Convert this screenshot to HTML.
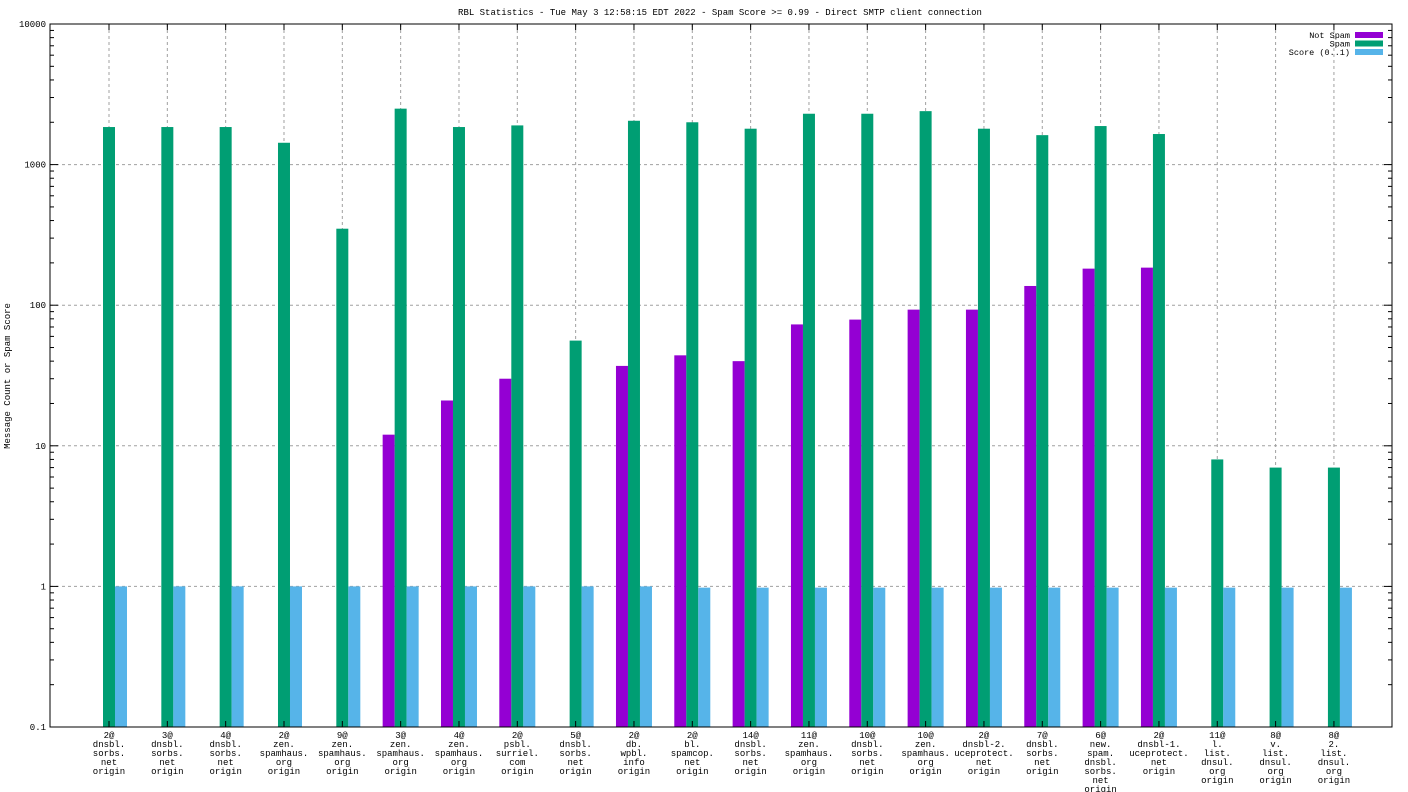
<!DOCTYPE html>
<html><head><meta charset="utf-8"><style>
html,body{margin:0;padding:0;background:#fff}
svg{display:block;font-family:"Liberation Mono",monospace;font-size:9px}
</style></head><body>
<svg id="c" width="1408" height="792" xmlns="http://www.w3.org/2000/svg"></svg>
<script>
const categories=[["2@","dnsbl.","sorbs.","net","origin"],["3@","dnsbl.","sorbs.","net","origin"],["4@","dnsbl.","sorbs.","net","origin"],["2@","zen.","spamhaus.","org","origin"],["9@","zen.","spamhaus.","org","origin"],["3@","zen.","spamhaus.","org","origin"],["4@","zen.","spamhaus.","org","origin"],["2@","psbl.","surriel.","com","origin"],["5@","dnsbl.","sorbs.","net","origin"],["2@","db.","wpbl.","info","origin"],["2@","bl.","spamcop.","net","origin"],["14@","dnsbl.","sorbs.","net","origin"],["11@","zen.","spamhaus.","org","origin"],["10@","dnsbl.","sorbs.","net","origin"],["10@","zen.","spamhaus.","org","origin"],["2@","dnsbl-2.","uceprotect.","net","origin"],["7@","dnsbl.","sorbs.","net","origin"],["6@","new.","spam.","dnsbl.","sorbs.","net","origin"],["2@","dnsbl-1.","uceprotect.","net","origin"],["11@","l.","list.","dnsul.","org","origin"],["8@","v.","list.","dnsul.","org","origin"],["8@","2.","list.","dnsul.","org","origin"]];
const notSpam=[0,0,0,0,0,12,21,30,0,37,44,40,73,79,93,93,137,182,185,0,0,0];
const spam=[1850,1850,1850,1430,350,2500,1850,1900,56,2050,2000,1800,2300,2300,2400,1800,1620,1880,1650,8,7,7];
const score=[1,1,1,1,1,1,1,1,1,1,0.98,0.98,0.98,0.98,0.98,0.98,0.98,0.98,0.98,0.98,0.98,0.98];
const yTicks=[0.1,1,10,100,1000,10000];
const yTickLabels=["0.1","1","10","100","1000","10000"];

const L=50,R=1392,T=24,B=727;
const y=v=>B-(Math.log10(v)+1)/5*(B-T);
const x=i=>109+i*58.33;
const svg=document.getElementById('c');
const NS="http://www.w3.org/2000/svg";
function mk(t,a,p){const e=document.createElementNS(NS,t);for(const k in a)e.setAttribute(k,a[k]);(p||svg).appendChild(e);return e;}

let e=mk('text',{x:720,y:15,'text-anchor':'middle'});e.textContent="RBL Statistics - Tue May  3 12:58:15 EDT 2022 - Spam Score >= 0.99 - Direct SMTP client connection";


e=mk('text',{transform:'translate(10,376) rotate(-90)','text-anchor':'middle'});e.textContent="Message Count or Spam Score";



yTicks.forEach((v,k)=>{
  if(k>0&&k<yTicks.length-1){e=mk('line',{x1:L,x2:R,y1:y(v),y2:y(v),stroke:'#a0a0a0','stroke-dasharray':'3,3'});
  
  }
  e=mk('text',{x:L-4,y:y(v)+3,'text-anchor':'end'});e.textContent=yTickLabels[k];
  
  
  mk('line',{x1:L,x2:L+8,y1:y(v),y2:y(v),stroke:'#000'});
  mk('line',{x1:R,x2:R-8,y1:y(v),y2:y(v),stroke:'#000'});
  if(k<yTicks.length-1)for(let m=2;m<10;m++){const yy=y(v*m);mk('line',{x1:L,x2:L+4,y1:yy,y2:yy,stroke:'#000'});mk('line',{x1:R,x2:R-4,y1:yy,y2:yy,stroke:'#000'});}
});
categories.forEach((c,i)=>{
  e=mk('line',{x1:x(i),x2:x(i),y1:T,y2:B,stroke:'#a0a0a0','stroke-dasharray':'3,3'});
  
  
});
const series=[[notSpam,'#9400d3',-18,'not-spam-bar'],[spam,'#009e73',-6,'spam-bar'],[score,'#56b4e9',6,'score-bar']];
categories.forEach((c,i)=>{
  series.forEach(s=>{const v=s[0][i];if(v>0.1){
    e=mk('rect',{x:x(i)+s[2],y:y(v),width:12,height:B-y(v),fill:s[1]});
    
    }});
  mk('line',{x1:x(i),x2:x(i),y1:B,y2:B-6,stroke:'#000'});
  mk('line',{x1:x(i),x2:x(i),y1:T,y2:T+6,stroke:'#000'});
  e=mk('text',{x:x(i),y:B+11,'text-anchor':'middle'});
  
  
  c.forEach((ln,j)=>{const t=mk('tspan',{x:x(i),dy:j?9:0},e);t.textContent=ln;});
});
e=mk('rect',{x:L,y:T,width:R-L,height:B-T,fill:'none',stroke:'#000'});


[["Not Spam",'#9400d3'],["Spam",'#009e73'],["Score (0..1)",'#56b4e9']].forEach((l,k)=>{
  const yy=35+k*8.5;
  e=mk('text',{x:1350,y:yy+3,'text-anchor':'end','font-size':'8.5px'});e.textContent=l[0];
  
  
  mk('rect',{x:1355,y:yy-3,width:28,height:6,fill:l[1]});
});
</script>
</body></html>
